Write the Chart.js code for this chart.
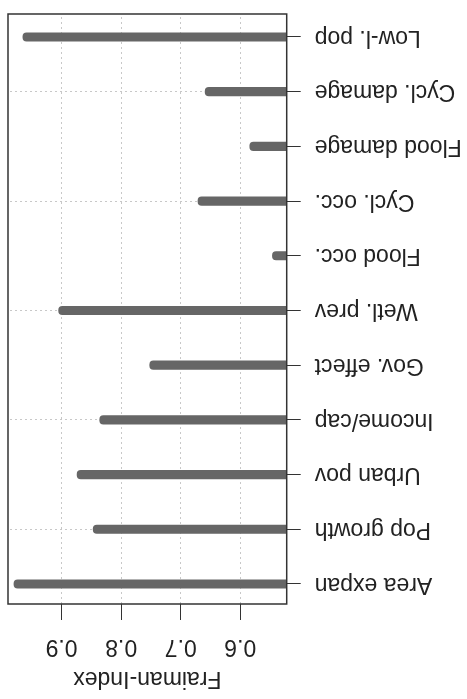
<!DOCTYPE html>
<html>
<head>
<meta charset="utf-8">
<script src="https://cdn.jsdelivr.net/npm/chart.js@4/dist/chart.umd.min.js"></script>
<style>
  html, body { margin: 0; padding: 0; background: #fff; }
  #wrap { width: 467px; height: 699px; position: relative; transform: rotate(180deg); }
</style>
</head>
<body>
<div id="wrap"><canvas id="c"></canvas></div>
<script>
// Variables, top to bottom
const categories = ['Area expan', 'Pop growth', 'Urban pov', 'Income/cap', 'Gov. effect',
  'Wetl. prev', 'Flood occ.', 'Cycl. occ.', 'Flood damage', 'Cycl. damage', 'Low-l. pop'];
// Fraiman index per variable
const fraimanIndex = [0.980, 0.847, 0.874, 0.836, 0.752, 0.905, 0.546, 0.671, 0.584, 0.659, 0.965];
// x-axis tick values
const xTicks = [0.6, 0.7, 0.8, 0.9];

const textColor = '#222';
const gridColor = '#c8c8c8';
const font = { family: '"Liberation Sans", Arial, sans-serif', size: 23 };

// plot frame around the chart area
const frame = {
  id: 'frame',
  afterDatasetsDraw(chart) {
    const a = chart.chartArea, ctx = chart.ctx;
    ctx.save();
    ctx.strokeStyle = '#333';
    ctx.lineWidth = 1.5;
    ctx.strokeRect(a.left, a.top, a.right - a.left, a.bottom - a.top);
    ctx.restore();
  }
};

new Chart(document.getElementById('c'), {
  type: 'bar',
  data: {
    datasets: [{
      data: fraimanIndex.map((v, i) => ({ x: v, y: i })),
      backgroundColor: '#666666',
      borderWidth: 0,
      borderRadius: 4,
      barThickness: 8.5
    }]
  },
  options: {
    indexAxis: 'y',
    responsive: true,
    maintainAspectRatio: false,
    animation: false,
    devicePixelRatio: 1,
    layout: { padding: { left: 0, right: 8, top: 0, bottom: 14 } },
    plugins: { legend: { display: false }, tooltip: { enabled: false } },
    scales: {
      x: {
        type: 'linear',
        position: 'top',
        min: 0.522,
        max: 0.990,
        offset: false,
        afterBuildTicks: s => { s.ticks = xTicks.map(v => ({ value: v })); },
        afterFit: s => { s.height = 95; s.paddingLeft = 0; s.paddingRight = 0; },
        border: { display: false, dash: [2, 3] },
        grid: {
          offset: false,
          color: gridColor,
          lineWidth: 1,
          tickLength: 16,
          tickColor: '#333',
          tickWidth: 1,
          tickBorderDash: []
        },
        ticks: {
          color: textColor,
          font: font,
          padding: 13,
          maxRotation: 0,
          callback: v => Number(v).toFixed(1)
        },
        title: {
          display: true,
          text: 'Fraiman-Index',
          color: textColor,
          font: font,
          padding: { top: 7, bottom: 0 }
        }
      },
      y: {
        type: 'linear',
        position: 'left',
        reverse: true,
        offset: false,
        min: -0.366,
        max: 10.42,
        afterBuildTicks: s => { s.ticks = categories.map((_, i) => ({ value: i })); },
        afterFit: s => { s.width = 180.3; s.paddingTop = 0; s.paddingBottom = 0; },
        border: { display: false, dash: [2, 3] },
        grid: {
          offset: false,
          color: ctx => (ctx.index % 2 === 1 ? gridColor : 'rgba(0,0,0,0)'),
          lineWidth: 1,
          tickLength: 14,
          tickColor: '#333',
          tickWidth: 1,
          tickBorderDash: []
        },
        ticks: {
          color: textColor,
          font: font,
          padding: 14,
          callback: v => categories[v]
        }
      }
    }
  },
  plugins: [frame]
});
</script>
</body>
</html>
